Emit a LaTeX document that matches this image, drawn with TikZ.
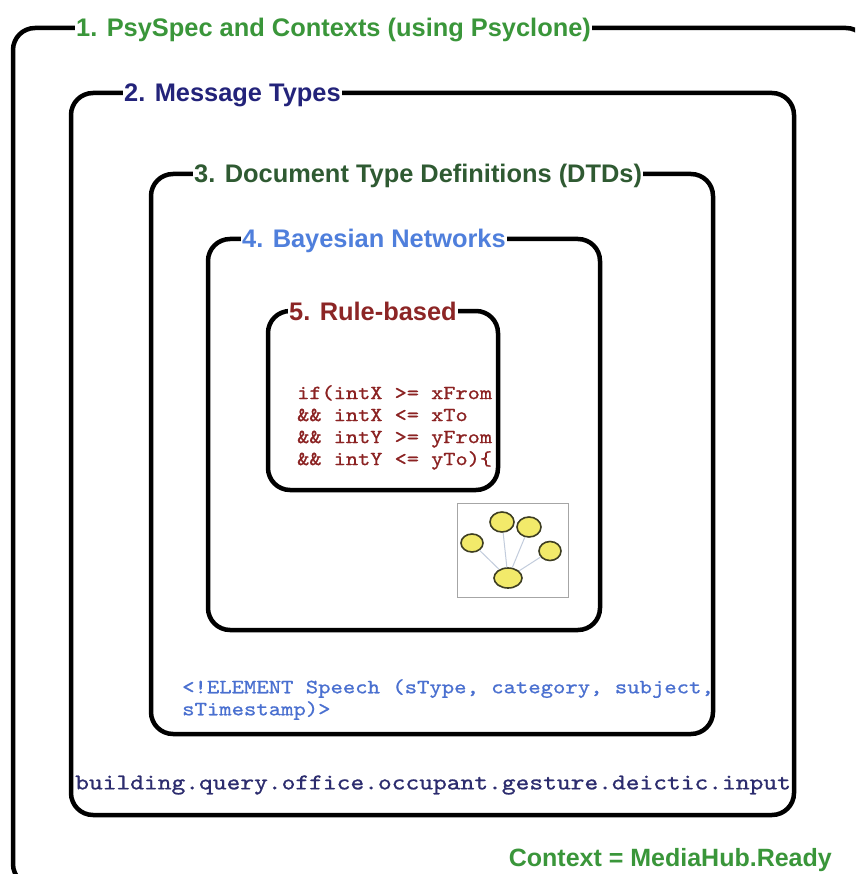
\documentclass[tikz,border=0pt]{standalone}
\usepackage{fontspec}
\setmainfont{Liberation Sans}
% Courier-like monospace: Latin Modern Mono, widened and darkened
\newfontfamily\codefont[FakeStretch=1.16,FakeBold=0.9]{lmmono10-regular.otf}
\usetikzlibrary{shapes.geometric}
\definecolor{tgreen}{HTML}{3A963A}
\definecolor{tnavy}{HTML}{23237A}
\definecolor{tdkgreen}{HTML}{2F5A32}
\definecolor{tblue}{HTML}{4F7FDC}
\definecolor{tred}{HTML}{8C2525}
\definecolor{codered}{HTML}{8B2222}
\definecolor{dtdblue}{HTML}{4A70D0}
\definecolor{msgnavy}{HTML}{2C2C6E}
\definecolor{bnfill}{HTML}{F2EA6A}
\definecolor{bnedge}{HTML}{3E3E22}
\definecolor{bnline}{HTML}{C2CCDC}
\begin{document}
\begin{tikzpicture}[x=1pt,y=-1pt,
  frame/.style={draw=black, line width=4.5pt, rounded corners=22pt},
  title/.style={fill=white, inner xsep=1pt, inner ysep=2pt, anchor=base west,
    font=\fontsize{25.4}{30}\selectfont\bfseries},
  code/.style={inner sep=0pt, anchor=north west, align=left},
  bnode/.style={ellipse, draw=bnedge, line width=1.6pt, fill=bnfill, inner sep=0pt},
  bnlink/.style={draw=bnline, line width=1pt}
]
\useasboundingbox (0,0) rectangle (855,874);
\clip (0,0) rectangle (855,874);
\fill[white] (0,0) rectangle (855,874);

% nested context frames
\draw[frame] (13,28) rectangle (868,886);
\draw[frame] (71,93) rectangle (794,815);
\draw[frame] (151,174) rectangle (713,734);
\draw[frame] (208,239) rectangle (600,630);
\draw[frame] (268,311) rectangle (498,490);

% frame titles, sitting on the top borders
\node[title, text=tgreen]   (t1) at (75,37)  {1. PsySpec and Contexts (using Psyclone)};
\node[title, text=tnavy]    (t2) at (123,102) {2. Message Types};
\node[title, text=tdkgreen] (t3) at (193,183) {3. Document Type Definitions (DTDs)};
\node[title, text=tblue]    (t4) at (241,248) {4. Bayesian Networks};
\node[title, text=tred]     (t5) at (288,320) {5. Rule-based};

% rule-based test
\node[code, text=codered, font=\fontsize{20}{22}\codefont] (rule) at (297,385)
  {if(intX >= xFrom\\\&\& intX <= xTo\\\&\& intY >= yFrom\\\&\& intY <= yTo)\{};

% small Bayesian network sketch
\draw[gray!70, line width=0.8pt, fill=white] (457,503) rectangle (568,597);
\node[bnode, minimum width=22pt, minimum height=18pt] (n1) at (472,543) {};
\node[bnode, minimum width=24pt, minimum height=20pt] (n2) at (502,522) {};
\node[bnode, minimum width=24pt, minimum height=20pt] (n3) at (529,527) {};
\node[bnode, minimum width=22pt, minimum height=19pt] (n4) at (550,551) {};
\node[bnode, minimum width=28pt, minimum height=20pt] (n5) at (508,578) {};
\draw[bnlink] (n5) -- (n1);
\draw[bnlink] (n5) -- (n2);
\draw[bnlink] (n5) -- (n3);
\draw[bnlink] (n5) -- (n4);

% DTD declaration
\node[code, text=dtdblue, font=\fontsize{20.3}{22}\codefont] (dtd) at (182,679)
  {<!ELEMENT Speech (sType, category, subject,\\sTimestamp)>};

% message type
\node[code, text=msgnavy, anchor=west, font=\fontsize{22.6}{26}\codefont] (msg) at (75,785)
  {building.query.office.occupant.gesture.deictic.input};

% context
\node[anchor=base east, inner sep=0pt, text=tgreen, font=\fontsize{25}{30}\selectfont\bfseries] (ctx) at (832,866)
  {Context = MediaHub.Ready};
\end{tikzpicture}
\end{document}
